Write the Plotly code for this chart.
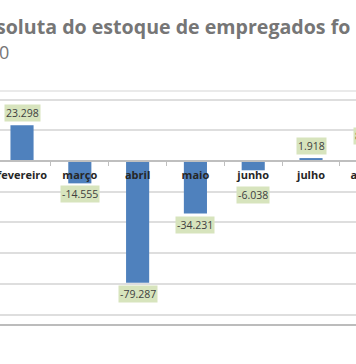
import plotly.graph_objects as go

months = ["fevereiro", "março", "abril", "maio", "junho", "julho", "agosto"]
values = [23298, -14555, -79287, -34231, -6038, 1918, 8800]
labels = ["23.298", "-14.555", "-79.287", "-34.231", "-6.038", "1.918", "8.800"]
title_line1 = "soluta do estoque de empregados fo"
title_line2 = "0"

# the visible window is 356 px wide; the chart continues past its right edge
W, H = 400, 364
T, B = 91, 39
PH = H - T - B
YMIN, YMAX = -106800, 45600
SLOT = 57.8
XR = [-0.381, -0.381 + W / SLOT]

def ypaper(px):
    return (H - B - px) / PH

zero_pos = (0 - YMIN) / (YMAX - YMIN)
lab_font = dict(family="Open Sans", size=10.5, color="#404040")
cat_font = dict(family="Open Sans", size=11, color="#262626", weight="bold")

fig = go.Figure()
fig.add_trace(go.Bar(
    x=months, y=values, width=0.4,
    marker=dict(color="#4f81bd", line=dict(width=0)),
    showlegend=False, hoverinfo="skip",
))

# data label shifts (px) -- junho label moved down below the category label
extra = {"junho": -14}
for m, v, t in zip(months, values, labels):
    pos = v >= 0
    fig.add_annotation(
        x=m, y=v, xref="x", yref="y", text=t, showarrow=False,
        yanchor="bottom" if pos else "top",
        yshift=(3 if pos else -2) + extra.get(m, 0),
        bgcolor="#d7e4bd", borderpad=1, font=lab_font,
    )

fig.add_annotation(
    x=0, y=ypaper(26), xref="paper", yref="paper", xanchor="left", yanchor="middle",
    xshift=-6, text="<b>" + title_line1 + "</b>", showarrow=False,
    font=dict(family="Open Sans", size=19.6, color="#767676"),
)
fig.add_annotation(
    x=0, y=ypaper(52), xref="paper", yref="paper", xanchor="left", yanchor="middle",
    xshift=-3, text=title_line2, showarrow=False,
    font=dict(family="Open Sans", size=18, color="#767676"),
)

# plot area top / bottom border lines
fig.add_shape(type="line", xref="paper", yref="paper", x0=0, x1=1, y0=1, y1=1,
              line=dict(color="#e3e3e3", width=1.5))
fig.add_shape(type="line", xref="paper", yref="paper", x0=0, x1=1, y0=0, y1=0,
              line=dict(color="#a6a6a6", width=1.5))

fig.update_layout(
    width=W, height=H,
    margin=dict(l=0, r=0, t=T, b=B, autoexpand=False),
    paper_bgcolor="white", plot_bgcolor="white",
    bargap=0.6,
    xaxis=dict(
        type="category", categoryorder="array", categoryarray=months,
        range=XR, automargin=False,
        anchor="free", position=zero_pos,
        showline=True, linecolor="#bfbfbf", linewidth=1.5,
        ticks="outside", tickson="boundaries", ticklen=4, tickcolor="#bfbfbf",
        tickangle=0, tickfont=cat_font, ticklabelstandoff=4,
        showgrid=False, zeroline=False,
    ),
    yaxis=dict(
        range=[YMIN, YMAX], dtick=20000, tick0=0, automargin=False,
        showgrid=True, gridcolor="#dedede", gridwidth=1.5,
        showticklabels=False, zeroline=False, showline=False,
    ),
)

fig.write_html(
    "out.html", config={"displayModeBar": False},
    post_script=("document.documentElement.style.overflow='hidden';"
                 "document.body.style.overflow='hidden';"
                 "document.body.style.margin='0';"),
)
